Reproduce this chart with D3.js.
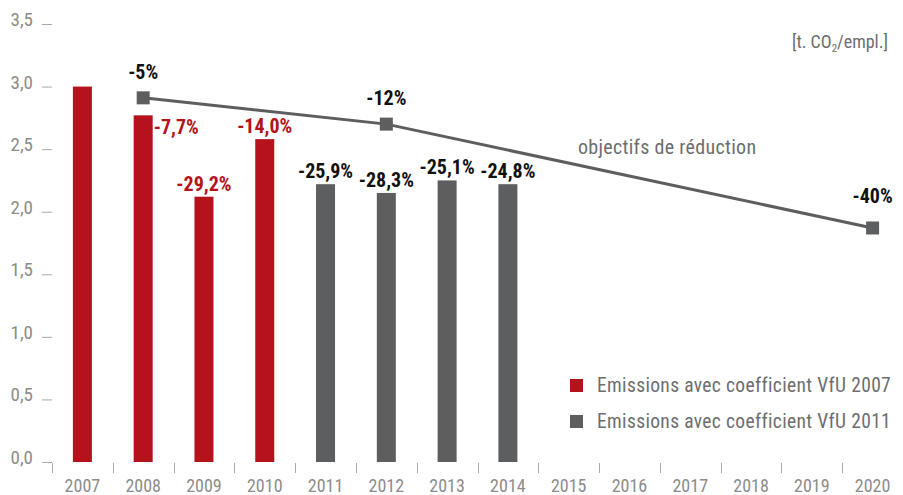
<!DOCTYPE html>
<html>
<head>
<meta charset="utf-8">
<script src="https://cdn.jsdelivr.net/npm/d3@7"></script>
<style>
  body { margin: 0; background: #fff; }
  svg { display: block; font-family: Roboto, sans-serif; font-stretch: condensed; }
</style>
</head>
<body>
<div id="chart"></div>
<script>
const width = 903, height = 495;

// years on the x axis
const years = ["2007", "2008", "2009", "2010", "2011", "2012", "2013", "2014",
               "2015", "2016", "2017", "2018", "2019", "2020"];

// emissions, coefficient VfU 2007 (red) and VfU 2011 (grey)
const yearsVfU2007 = ["2007", "2008", "2009", "2010"];
const valuesVfU2007 = [3.0, 2.77, 2.12, 2.58];
const labelsVfU2007 = ["", "-7,7%", "-29,2%", "-14,0%"];

const yearsVfU2011 = ["2011", "2012", "2013", "2014"];
const valuesVfU2011 = [2.22, 2.15, 2.25, 2.22];
const labelsVfU2011 = ["-25,9%", "-28,3%", "-25,1%", "-24,8%"];

// reduction targets
const targetYears = ["2008", "2012", "2020"];
const targetValues = [2.91, 2.70, 1.87];
const targetLabels = ["-5%", "-12%", "-40%"];

const yTicks = [0, 0.5, 1.0, 1.5, 2.0, 2.5, 3.0, 3.5];

const red = "#b5121b", grey = "#5d5e60", axisGrey = "#8c8c8c", textGrey = "#6d6e70";

const svg = d3.select("#chart")
    .append("svg")
    .attr("width", width)
    .attr("height", height);

const x = d3.scaleBand()
    .domain(years)
    .range([52, 903]);

const y = d3.scaleLinear()
    .domain([0, 3.5])
    .range([462, 24]);

const barW = 19;
const fmt = d3.format(".1f");

// y axis: labels and short dashes
const yAxis = svg.append("g");
yAxis.selectAll("line")
    .data(yTicks)
    .join("line")
    .attr("x1", 42).attr("x2", 52)
    .attr("y1", d => y(d) + 0.5).attr("y2", d => y(d) + 0.5)
    .attr("stroke", "#aaa")
    .attr("stroke-width", 1);
yAxis.selectAll("text")
    .data(yTicks)
    .join("text")
    .attr("x", 33)
    .attr("y", d => y(d) + 2)
    .attr("text-anchor", "end")
    .attr("fill", axisGrey)
    .attr("font-size", 19)
    .text(d => fmt(d).replace(".", ","));

// x axis: ticks at band boundaries
const xAxis = svg.append("g");
xAxis.selectAll("line")
    .data(years)
    .join("line")
    .attr("x1", d => Math.round(x(d)) + 0.5)
    .attr("x2", d => Math.round(x(d)) + 0.5)
    .attr("y1", 463).attr("y2", 473)
    .attr("stroke", "#aaa");
xAxis.selectAll("text")
    .data(years)
    .join("text")
    .attr("x", d => x(d) + x.bandwidth() / 2)
    .attr("y", 492)
    .attr("text-anchor", "middle")
    .attr("fill", axisGrey)
    .attr("font-size", 18)
    .text(d => d);

// bars
function drawBars(ys, vals, labels, color, labelColor) {
    const data = ys.map((yr, i) => ({ yr, v: vals[i], label: labels[i] }));
    svg.append("g").selectAll("rect")
        .data(data)
        .join("rect")
        .attr("x", d => x(d.yr) + x.bandwidth() / 2 - barW / 2)
        .attr("y", d => y(d.v))
        .attr("width", barW)
        .attr("height", d => y(0) - y(d.v))
        .attr("fill", color);
    svg.append("g").selectAll("text")
        .data(data)
        .join("text")
        .attr("x", d => d.yr === "2008" ? x(d.yr) + x.bandwidth() / 2 + barW / 2 + 1 : x(d.yr) + x.bandwidth() / 2)
        .attr("y", d => d.yr === "2008" ? y(d.v) + 19 : y(d.v) - 6)
        .attr("text-anchor", d => d.yr === "2008" ? "start" : "middle")
        .attr("fill", labelColor)
        .attr("font-size", 20)
        .attr("font-weight", "bold")
        .text(d => d.label);
}
drawBars(yearsVfU2007, valuesVfU2007, labelsVfU2007, red, red);
drawBars(yearsVfU2011, valuesVfU2011, labelsVfU2011, grey, "#111");

// target line
const targets = targetYears.map((yr, i) => ({ yr, v: targetValues[i], label: targetLabels[i] }));
const cx = d => x(d.yr) + x.bandwidth() / 2;
svg.append("path")
    .datum(targets)
    .attr("fill", "none")
    .attr("stroke", grey)
    .attr("stroke-width", 3)
    .attr("d", d3.line().x(cx).y(d => y(d.v)));
svg.append("g").selectAll("rect")
    .data(targets)
    .join("rect")
    .attr("x", d => cx(d) - 6.5)
    .attr("y", d => y(d.v) - 6.5)
    .attr("width", 13)
    .attr("height", 13)
    .attr("fill", grey);
svg.append("g").selectAll("text")
    .data(targets)
    .join("text")
    .attr("x", cx)
    .attr("y", (d, i) => y(d.v) - (i === 2 ? 25 : 19))
    .attr("text-anchor", "middle")
    .attr("fill", "#111")
    .attr("font-size", 20)
    .attr("font-weight", "bold")
    .text(d => d.label);

svg.append("text")
    .attr("x", 578)
    .attr("y", 154)
    .attr("fill", textGrey)
    .attr("font-size", 20)
    .attr("letter-spacing", 0.3)
    .text("objectifs de réduction");

// unit
const unit = svg.append("text")
    .attr("x", 888)
    .attr("y", 48)
    .attr("text-anchor", "end")
    .attr("fill", textGrey)
    .attr("font-size", 18);
unit.append("tspan").text("[t. CO");
unit.append("tspan").attr("font-size", 11).attr("dy", 4).text("2");
unit.append("tspan").attr("dy", -4).text("/empl.]");

// legend
const legendItems = [
    { label: "Emissions avec coefficient VfU 2007", color: red },
    { label: "Emissions avec coefficient VfU 2011", color: grey }
];
const legend = svg.append("g").selectAll("g")
    .data(legendItems)
    .join("g")
    .attr("transform", (d, i) => `translate(570, ${379 + i * 36})`);
legend.append("rect")
    .attr("width", 13).attr("height", 13)
    .attr("fill", d => d.color);
legend.append("text")
    .attr("x", 27)
    .attr("y", 13)
    .attr("fill", textGrey)
    .attr("font-size", 19.5)
    .attr("letter-spacing", 0.35)
    .text(d => d.label);
</script>
</body>
</html>
